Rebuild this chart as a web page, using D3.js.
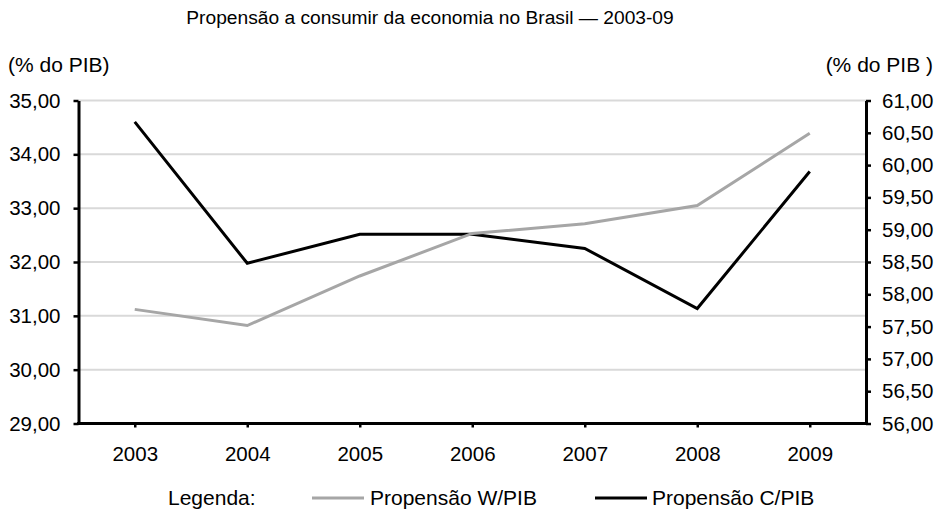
<html><head>
<title>Propensão a consumir</title>
<script src="https://d3js.org/d3.v7.min.js"></script>
<style>
  body { margin: 0; background: #fff; }
  text { font-family: "Liberation Sans", Arial, sans-serif; fill: #000; }
  .grid line { stroke: #d9d9d9; stroke-width: 2px; }
  .axis path, .axis line { stroke: #000; stroke-width: 3px; }
  .axis text { font-size: 20.5px; }
</style>
</head>
<body>
<svg id="chart" width="940" height="515"></svg>
<script>

// data
const years = ["2003", "2004", "2005", "2006", "2007", "2008", "2009"];
const wagesPib = [31.12, 30.82, 31.74, 32.53, 32.71, 33.05, 34.39];   // left axis
const consPib = [60.67, 58.48, 58.93, 58.93, 58.71, 57.78, 59.90];    // right axis
const leftTicks = [29, 30, 31, 32, 33, 34, 35];
const rightTicks = [56, 56.5, 57, 57.5, 58, 58.5, 59, 59.5, 60, 60.5, 61];

const svg = d3.select("#chart");
const plotLeft = 78.5, plotRight = 866, plotTop = 100.5, plotBottom = 423.5;

const br = d3.formatLocale({decimal: ",", thousands: ".", grouping: [3], currency: ["R$", ""]});
const fmt = br.format(".2f");

const x = d3.scalePoint().domain(years).range([plotLeft, plotRight]).padding(0.5);
const yL = d3.scaleLinear().domain([29, 35]).range([plotBottom, plotTop]);
const yR = d3.scaleLinear().domain([56, 61]).range([plotBottom, plotTop]);

// horizontal gridlines
svg.append("g").attr("class", "grid")
  .selectAll("line").data(leftTicks.slice(1))
  .enter().append("line")
  .attr("x1", plotLeft).attr("x2", plotRight)
  .attr("y1", d => yL(d)).attr("y2", d => yL(d));

// title and axis captions
svg.append("text").attr("x", 430).attr("y", 24).attr("text-anchor", "middle")
  .style("font-size", "19.2px").text("Propensão a consumir da economia no Brasil — 2003-09");
svg.append("text").attr("x", 8).attr("y", 72).style("font-size", "21px").text("(% do PIB)");
svg.append("text").attr("x", 933).attr("y", 72).attr("text-anchor", "end")
  .style("font-size", "21px").text("(% do PIB )");

// lines
const lineW = d3.line().x((d, i) => x(years[i])).y(d => yL(d));
const lineC = d3.line().x((d, i) => x(years[i])).y(d => yR(d));

svg.append("path").datum(consPib).attr("d", lineC)
  .attr("fill", "none").attr("stroke", "#000").attr("stroke-width", 3);
svg.append("path").datum(wagesPib).attr("d", lineW)
  .attr("fill", "none").attr("stroke", "#a6a6a6").attr("stroke-width", 3);

// axes
svg.append("g").attr("class", "axis").attr("transform", `translate(${plotLeft},0)`)
  .call(d3.axisLeft(yL).tickValues(leftTicks).tickFormat(fmt).tickSize(5).tickSizeOuter(0).tickPadding(13));
svg.append("g").attr("class", "axis").attr("transform", `translate(${plotRight},0)`)
  .call(d3.axisRight(yR).tickValues(rightTicks).tickFormat(fmt).tickSize(5).tickSizeOuter(0).tickPadding(11));
const gB = svg.append("g").attr("class", "axis").attr("transform", `translate(0,${plotBottom})`)
  .call(d3.axisBottom(x).tickSize(4).tickSizeOuter(0).tickPadding(19));
gB.select(".domain").attr("d", `M${plotLeft - 1.5},0H${plotRight + 1.5}`);
svg.selectAll(".axis .tick line").style("stroke-width", "2.5px");

// legend
const legY = 498;
svg.append("text").attr("x", 168).attr("y", legY + 7).style("font-size", "21px").text("Legenda:");
svg.append("line").attr("x1", 312).attr("x2", 364).attr("y1", legY).attr("y2", legY)
  .attr("stroke", "#a6a6a6").attr("stroke-width", 3);
svg.append("text").attr("x", 370).attr("y", legY + 7).style("font-size", "21px").text("Propensão W/PIB");
svg.append("line").attr("x1", 595).attr("x2", 647).attr("y1", legY).attr("y2", legY)
  .attr("stroke", "#000").attr("stroke-width", 3);
svg.append("text").attr("x", 652).attr("y", legY + 7).style("font-size", "21px").text("Propensão C/PIB");

</script>
</body>
</html>
